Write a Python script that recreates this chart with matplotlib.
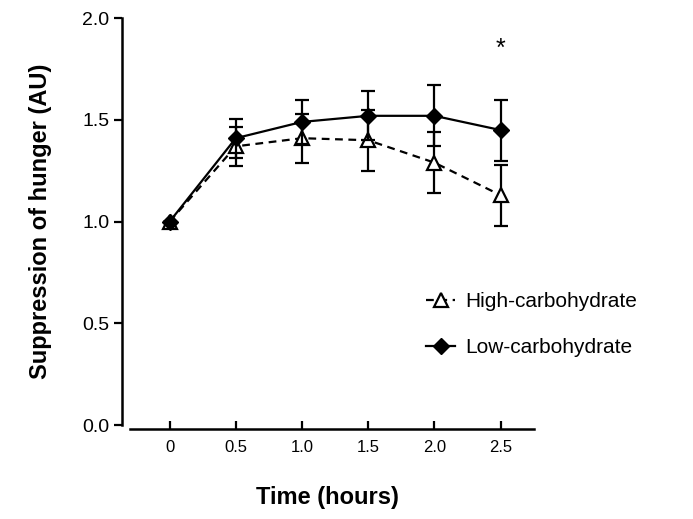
import numpy as np
import matplotlib
matplotlib.use("Agg")
import matplotlib.pyplot as plt
from matplotlib.lines import Line2D

plt.rcParams["font.family"] = ["Liberation Sans", "DejaVu Sans"]

# data
time_h = [0, 0.5, 1.0, 1.5, 2.0, 2.5]
high_carb = [1.00, 1.37, 1.41, 1.40, 1.29, 1.13]
high_carb_err = [0.0, 0.095, 0.12, 0.15, 0.15, 0.15]
low_carb = [1.00, 1.41, 1.49, 1.52, 1.52, 1.45]
low_carb_err = [0.0, 0.095, 0.11, 0.12, 0.15, 0.15]
x_ticks = [0, 0.5, 1.0, 1.5, 2.0, 2.5]
x_tick_labels = ["0", "0.5", "1.0", "1.5", "2.0", "2.5"]
y_ticks = [0.0, 0.5, 1.0, 1.5, 2.0]
sig_time = 2.5

fig = plt.figure(figsize=(6.93, 5.19), dpi=100)
ax = fig.add_axes([0.176, 0.181, 0.594, 0.784])

hc_style = dict(color="black", linestyle=(0, (3.5, 2.5)), linewidth=1.6,
                marker="^", markersize=10, markerfacecolor="white",
                markeredgecolor="black", markeredgewidth=1.6)
lc_style = dict(color="black", linestyle="-", linewidth=1.6, marker="D",
                markersize=8, markerfacecolor="black")

ax.errorbar(time_h, high_carb, yerr=high_carb_err, capsize=5, capthick=1.6,
            elinewidth=1.6, zorder=3, **hc_style)
ax.errorbar(time_h, low_carb, yerr=low_carb_err, capsize=5, capthick=1.6,
            elinewidth=1.6, zorder=4, **lc_style)

# significance marker
ax.text(sig_time, 1.79, "*", ha="center", va="bottom", fontsize=18)

ax.set_xlim(-0.36, 2.75)
ax.set_ylim(0, 2.0)
ax.set_xticks(x_ticks)
ax.set_xticklabels(x_tick_labels, fontweight="bold")
ax.set_yticks(y_ticks)
ax.set_yticklabels([f"{v:.1f}" for v in y_ticks])

for side in ["top", "right"]:
    ax.spines[side].set_visible(False)
ax.spines["left"].set_linewidth(1.8)
ax.spines["bottom"].set_linewidth(1.8)
ax.spines["bottom"].set_position(("outward", 3))
ax.spines["bottom"].set_bounds(-0.3, 2.75)

ax.tick_params(axis="x", direction="in", length=6, width=1.6,
               labelsize=12, pad=8)
ax.tick_params(axis="y", direction="out", length=6, width=1.6,
               labelsize=14, pad=3)

ax.set_xlabel("Time (hours)", fontsize=17, fontweight="bold", labelpad=22)
ax.set_ylabel("Suppression of hunger (AU)", fontsize=17, fontweight="bold",
              labelpad=22)

handles = [Line2D([], [], **hc_style), Line2D([], [], **lc_style)]
ax.legend(handles, ["High-carbohydrate", "Low-carbohydrate"],
          loc="upper left", bbox_to_anchor=(0.693, 0.373), frameon=False,
          fontsize=15, handlelength=1.4, labelspacing=1.3, handletextpad=0.5)

fig.savefig("out.png", dpi=100)
